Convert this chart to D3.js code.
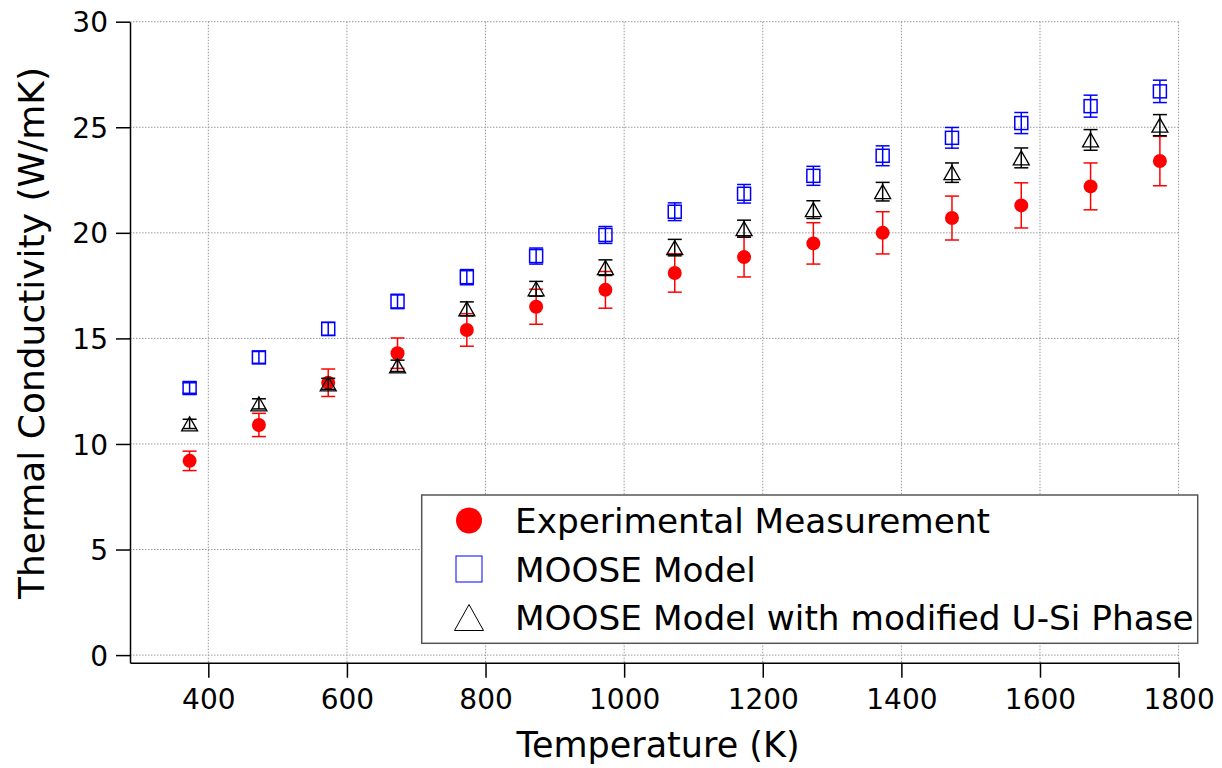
<!DOCTYPE html>
<html>
<head>
<meta charset="utf-8">
<script src="https://cdn.jsdelivr.net/npm/d3@7"></script>
<style>
  html, body { margin: 0; padding: 0; background: #fff; }
  svg { display: block; }
  text { font-family: "DejaVu Sans", sans-serif; fill: #000; }
</style>
</head>
<body>
<svg id="chart" width="1222" height="768"></svg>
<script>
// Temperatures (K) at which conductivity was measured / modelled
const temperature = [373, 473, 573, 673, 773, 873, 973, 1073, 1173, 1273, 1373, 1473, 1573, 1673, 1773];

// Thermal conductivity (W/mK)
const experimental = [9.2, 10.9, 12.9, 14.3, 15.4, 16.5, 17.3, 18.1, 18.85, 19.5, 20.0, 20.7, 21.3, 22.2, 23.4];
const experimentalErr = [0.46, 0.55, 0.65, 0.72, 0.77, 0.83, 0.87, 0.91, 0.94, 0.98, 1.0, 1.04, 1.07, 1.11, 1.17];

const mooseModel = [12.65, 14.1, 15.45, 16.75, 17.9, 18.9, 19.9, 21.0, 21.85, 22.7, 23.65, 24.5, 25.2, 26.0, 26.7];
const mooseModelErr = [0.25, 0.28, 0.31, 0.34, 0.36, 0.38, 0.40, 0.42, 0.44, 0.45, 0.47, 0.49, 0.50, 0.52, 0.53];

const mooseModified = [10.95, 11.9, 12.85, 13.7, 16.4, 17.35, 18.35, 19.3, 20.2, 21.1, 21.95, 22.85, 23.55, 24.4, 25.1];
const mooseModifiedErr = [0.22, 0.24, 0.26, 0.27, 0.33, 0.35, 0.37, 0.39, 0.40, 0.42, 0.44, 0.46, 0.47, 0.49, 0.50];

const xTicks = [400, 600, 800, 1000, 1200, 1400, 1600, 1800];
const yTicks = [0, 5, 10, 15, 20, 25, 30];

const legendLabels = ["Experimental Measurement", "MOOSE Model", "MOOSE Model with modified U-Si Phase"];

const svg = d3.select("#chart");

const x = d3.scaleLinear().domain([287, 1800]).range([130, 1178.6]);
const y = d3.scaleLinear().domain([-0.36, 30]).range([662.7, 21.7]);

// Dotted grid
const grid = svg.append("g").attr("stroke", "#9a9a9a").attr("stroke-width", 1).attr("stroke-dasharray", "1.5,1.5");
grid.selectAll("line.h").data(yTicks).join("line")
  .attr("x1", x.range()[0]).attr("x2", x(1800))
  .attr("y1", d => y(d)).attr("y2", d => y(d));
grid.selectAll("line.v").data(xTicks).join("line")
  .attr("y1", y(30)).attr("y2", y.range()[0])
  .attr("x1", d => x(d)).attr("x2", d => x(d));

// Axes
const xAxis = svg.append("g").attr("transform", `translate(0,${y.range()[0]})`)
  .call(d3.axisBottom(x).tickValues(xTicks).tickFormat(d3.format("d"))
    .tickSize(15).tickSizeOuter(0).tickPadding(9));
const yAxis = svg.append("g").attr("transform", `translate(${x.range()[0]},0)`)
  .call(d3.axisLeft(y).tickValues(yTicks).tickFormat(d3.format("d"))
    .tickSize(14).tickSizeOuter(0).tickPadding(8));
[xAxis, yAxis].forEach(g => {
  g.select(".domain").attr("stroke", "#000").attr("stroke-width", 1.5);
  g.selectAll(".tick line").attr("stroke", "#000").attr("stroke-width", 1.5);
  g.selectAll(".tick text").attr("font-size", 28).attr("font-family", "DejaVu Sans, sans-serif").attr("fill", "#000");
});
xAxis.selectAll(".tick text").attr("dy", "0.78em");
yAxis.selectAll(".tick text").attr("dy", "0.36em");

// Axis titles
svg.append("text")
  .attr("x", 658).attr("y", 757)
  .attr("text-anchor", "middle").attr("font-size", 35)
  .text("Temperature (K)");
svg.append("text")
  .attr("transform", "translate(44,333) rotate(-90)")
  .attr("text-anchor", "middle").attr("font-size", 36)
  .text("Thermal Conductivity (W/mK)");

// Error bars
function errorBars(values, errs, color, cap) {
  const g = svg.append("g").attr("stroke", color).attr("stroke-width", 1.5);
  temperature.forEach((t, i) => {
    const cx = x(t), lo = y(values[i] - errs[i]), hi = y(values[i] + errs[i]);
    g.append("line").attr("x1", cx).attr("x2", cx).attr("y1", lo).attr("y2", hi);
    g.append("line").attr("x1", cx - cap).attr("x2", cx + cap).attr("y1", lo).attr("y2", lo);
    g.append("line").attr("x1", cx - cap).attr("x2", cx + cap).attr("y1", hi).attr("y2", hi);
  });
}

function trianglePath(cx, cy, w, h) {
  return `M${cx},${cy - h / 2}L${cx + w / 2},${cy + h / 2}L${cx - w / 2},${cy + h / 2}Z`;
}

// Experimental measurement: filled red circles
errorBars(experimental, experimentalErr, "#ff0000", 7);
svg.append("g").selectAll("circle").data(temperature).join("circle")
  .attr("cx", d => x(d)).attr("cy", (d, i) => y(experimental[i]))
  .attr("r", 7).attr("fill", "#ff0000");

// MOOSE model: open blue squares
errorBars(mooseModel, mooseModelErr, "#0000ff", 7);
svg.append("g").selectAll("rect").data(temperature).join("rect")
  .attr("x", d => x(d) - 6.5).attr("y", (d, i) => y(mooseModel[i]) - 6.5)
  .attr("width", 13).attr("height", 13)
  .attr("fill", "none").attr("stroke", "#0000ff").attr("stroke-width", 1.5);

// MOOSE model with modified U-Si phase: open black triangles
errorBars(mooseModified, mooseModifiedErr, "#000000", 7);
svg.append("g").selectAll("path").data(temperature).join("path")
  .attr("d", (d, i) => trianglePath(x(d), y(mooseModified[i]), 16, 14))
  .attr("fill", "none").attr("stroke", "#000").attr("stroke-width", 1.3);

// Legend
const legend = svg.append("g");
legend.append("rect")
  .attr("x", 421.7).attr("y", 495).attr("width", 776).attr("height", 148.3)
  .attr("fill", "#fff").attr("stroke", "#555").attr("stroke-width", 1.5);
const rowY = [520.5, 569, 617.5];
legend.append("circle").attr("cx", 469).attr("cy", rowY[0]).attr("r", 13).attr("fill", "#ff0000");
legend.append("rect").attr("x", 456).attr("y", rowY[1] - 13).attr("width", 26).attr("height", 26)
  .attr("fill", "none").attr("stroke", "#0000ff").attr("stroke-width", 1);
legend.append("path").attr("d", trianglePath(469, rowY[2], 29, 26))
  .attr("fill", "none").attr("stroke", "#000").attr("stroke-width", 1);
legend.selectAll("text").data(legendLabels).join("text")
  .attr("x", 515).attr("y", (d, i) => rowY[i] + 12.5)
  .attr("font-size", 34.3)
  .text(d => d);
</script>
</body>
</html>
